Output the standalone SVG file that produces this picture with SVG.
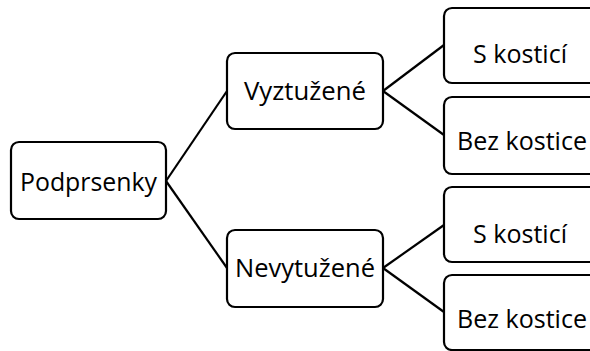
<svg xmlns="http://www.w3.org/2000/svg" width="590" height="351" viewBox="0 0 590 351">
<style>
.box{fill:#fff;stroke:#000;stroke-width:2.2}
.lbl{font-family:"Open Sans","Noto Sans",sans-serif;font-size:25.5px;fill:#000;text-anchor:middle}
.con{stroke:#000;stroke-width:2.2;fill:none}
</style>
<rect width="590" height="351" fill="#fff"/>
<g id="connectors">
<line class="con" x1="166" y1="181" x2="227" y2="91"/>
<line class="con" x1="166" y1="181" x2="227" y2="268"/>
<line class="con" x1="383" y1="91" x2="444" y2="45"/>
<line class="con" x1="383" y1="91" x2="444" y2="135"/>
<line class="con" x1="383" y1="268" x2="444" y2="225"/>
<line class="con" x1="383" y1="268" x2="444" y2="312"/>
</g>
<g id="podprsenky">
<rect class="box" x="11" y="142" width="155" height="77" rx="8"/>
<text class="lbl" x="88.5" y="191" textLength="137" lengthAdjust="spacingAndGlyphs">Podprsenky</text>
</g>
<g id="vyztuzene">
<rect class="box" x="227" y="53" width="156" height="76" rx="8"/>
<text class="lbl" x="305" y="100" textLength="122" lengthAdjust="spacingAndGlyphs">Vyztužené</text>
</g>
<g id="nevytuzene">
<rect class="box" x="227" y="230" width="156" height="77" rx="8"/>
<text class="lbl" x="305" y="277" textLength="140" lengthAdjust="spacingAndGlyphs">Nevytužené</text>
</g>
<g id="v-s-kostici">
<rect class="box" x="444" y="8" width="160" height="75" rx="8"/>
<text class="lbl" x="520" y="63" textLength="94" lengthAdjust="spacingAndGlyphs">S kosticí</text>
</g>
<g id="v-bez-kostice">
<rect class="box" x="444" y="97" width="160" height="77" rx="8"/>
<text class="lbl" x="522" y="150" textLength="130" lengthAdjust="spacingAndGlyphs">Bez kostice</text>
</g>
<g id="n-s-kostici">
<rect class="box" x="444" y="187" width="160" height="75" rx="8"/>
<text class="lbl" x="520" y="243" textLength="94" lengthAdjust="spacingAndGlyphs">S kosticí</text>
</g>
<g id="n-bez-kostice">
<rect class="box" x="444" y="275" width="160" height="75" rx="8"/>
<text class="lbl" x="522" y="328" textLength="130" lengthAdjust="spacingAndGlyphs">Bez kostice</text>
</g>
</svg>
